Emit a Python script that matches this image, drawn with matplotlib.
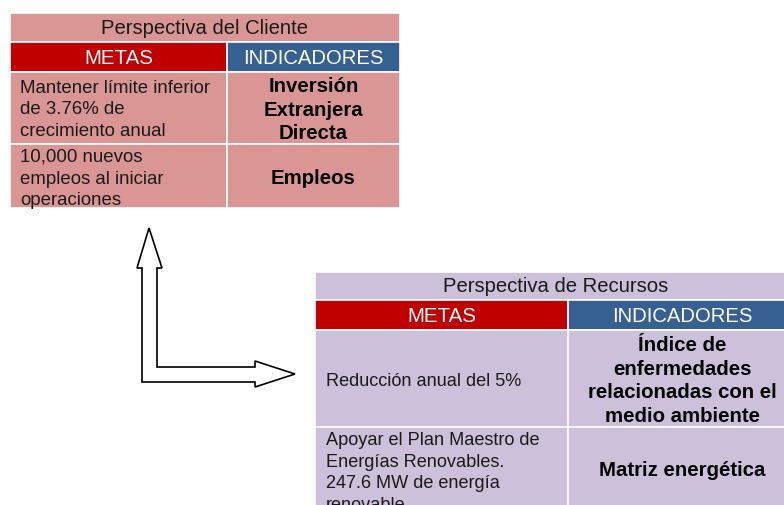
import matplotlib
matplotlib.use("Agg")
import matplotlib.pyplot as plt
from matplotlib.patches import Rectangle, Polygon

plt.rcParams['font.family'] = ['Liberation Sans', 'DejaVu Sans']

# ---- content ----
titles = ["Perspectiva del Cliente", "Perspectiva de Recursos"]
headers = ["METAS", "INDICADORES"]
cliente_metas = ["Mantener límite inferior\nde 3.76% de\ncrecimiento anual",
                 "10,000 nuevos\nempleos al iniciar\noperaciones"]
cliente_indicadores = ["Inversión\nExtranjera\nDirecta", "Empleos"]
recursos_metas = ["Reducción anual del 5%",
                  "Apoyar el Plan Maestro de\nEnergías Renovables.\n247.6 MW de energía\nrenovable."]
recursos_indicadores = ["Índice de\nenfermedades\nrelacionadas con el\nmedio ambiente",
                        "Matriz energética"]

# ---- style ----
PINK = "#d99694"
LAV = "#ccc0da"
RED = "#c00000"
BLUE = "#366092"
TXT = "#1a1a1a"

W, H = 784, 505
fig = plt.figure(figsize=(W / 100, H / 100), dpi=100)
ax = fig.add_axes([0, 0, 1, 1])
ax.set_xlim(0, W)
ax.set_ylim(H, 0)
ax.axis("off")


def lines_text(x, yc, s, pitch, ha, **kw):
    parts = s.split("\n")
    n = len(parts)
    y0 = yc - pitch * (n - 1) / 2
    for i, p in enumerate(parts):
        ax.text(x, y0 + i * pitch, p, ha=ha, va="center_baseline", **kw)


def table(x0, xm, x1, ys, fill, title, metas, inds, pitch_l, pitch_r, lpad, fs_l, fs_r,
          my, iy):
    # ys: [top, title_bottom, header_bottom, row1_bottom, row2_bottom]
    ec = "white"
    lw = 1.2
    ax.add_patch(Rectangle((x0, ys[0]), x1 - x0, ys[1] - ys[0], fc=fill, ec=ec, lw=lw))
    ax.add_patch(Rectangle((x0, ys[1]), xm - x0, ys[2] - ys[1], fc=RED, ec=ec, lw=lw))
    ax.add_patch(Rectangle((xm, ys[1]), x1 - xm, ys[2] - ys[1], fc=BLUE, ec=ec, lw=lw))
    for r in range(2):
        for (a, b) in [(x0, xm), (xm, x1)]:
            ax.add_patch(Rectangle((a, ys[2 + r]), b - a, ys[3 + r] - ys[2 + r],
                                   fc=fill, ec=ec, lw=lw))
    ax.text((x0 + x1) / 2, (ys[0] + ys[1]) / 2 + 1, title, ha="center", va="center",
            fontsize=14.6, color=TXT)
    ax.text((x0 + xm) / 2, (ys[1] + ys[2]) / 2 + 1, headers[0], ha="center", va="center",
            fontsize=14.8, color="white")
    ax.text((xm + x1) / 2, (ys[1] + ys[2]) / 2 + 1, headers[1], ha="center", va="center",
            fontsize=14.6, color="white")
    for r in range(2):
        lines_text(x0 + lpad, my[r], metas[r], pitch_l, "left", fontsize=fs_l, color=TXT)
        lines_text((xm + x1) / 2, iy[r], inds[r], pitch_r, "center", fontsize=fs_r,
                   color="black", fontweight="bold")


table(10, 227, 400, [13, 42, 72, 144, 208], PINK, titles[0],
      cliente_metas, cliente_indicadores, 21.5, 23.3, 10, 13.4, 14.7,
      [108, 177], [108, 177])
table(315, 568, 797, [272, 300, 330, 427, 540], LAV, titles[1],
      recursos_metas, recursos_indicadores, 21.7, 23.8, 11, 13.1, 14.7,
      [380, 471], [379, 468])

# ---- L-shaped arrow ----
arrow = [(149, 228), (162, 268), (157, 268), (157, 367), (255, 367), (255, 361),
         (295, 374), (255, 387), (255, 382), (142, 382), (142, 268), (137, 268)]
ax.add_patch(Polygon(arrow, closed=True, fc="white", ec="black", lw=1.2, joinstyle="miter"))

fig.savefig("out.png", dpi=100)
